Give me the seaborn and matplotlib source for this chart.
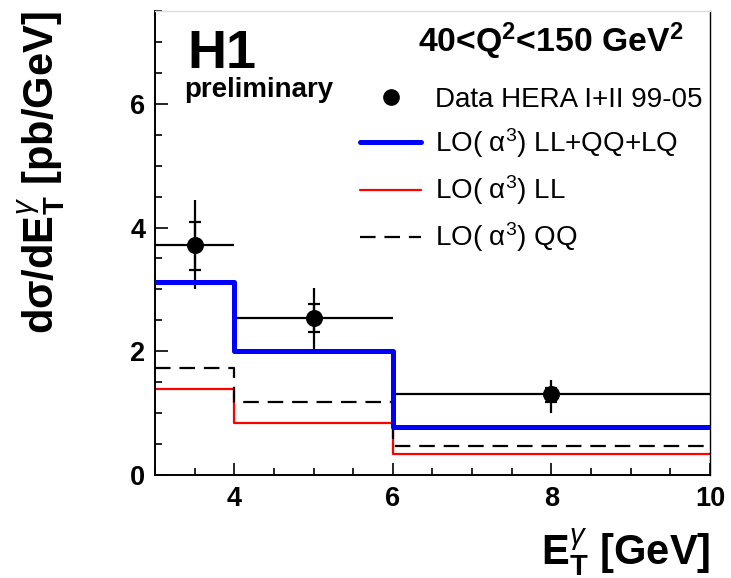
import numpy as np
import pandas as pd
import matplotlib
matplotlib.use("Agg")
import matplotlib.pyplot as plt
import seaborn as sns
from matplotlib.lines import Line2D
from matplotlib.ticker import MultipleLocator

# ---------------- data ----------------
bin_edges = [3, 4, 6, 10]
lo_all = [3.12, 2.01, 0.78]   # LO(a^3) LL+QQ+LQ
lo_ll = [1.39, 0.84, 0.34]    # LO(a^3) LL
lo_qq = [1.73, 1.18, 0.47]    # LO(a^3) QQ

data_x = [3.5, 5.0, 8.0]
data_xlo = [3, 4, 6]
data_xhi = [4, 6, 10]
data_y = [3.71, 2.54, 1.31]
tot_up = [4.45, 3.02, 1.54]
tot_dn = [3.01, 2.04, 1.01]
stat_up = [4.09, 2.76, 1.41]
stat_dn = [3.32, 2.31, 1.18]

title_text = "40<Q$^{\\mathbf{2}}$<150 GeV$^{\\mathbf{2}}$"
labels = ["Data HERA I+II 99-05", "LO( α$^{3}$) LL+QQ+LQ", "LO( α$^{3}$) LL", "LO( α$^{3}$) QQ"]

# ---------------- style ----------------
sns.set_style("ticks")
plt.rcParams["font.family"] = ["Liberation Sans", "DejaVu Sans"]
plt.rcParams["mathtext.fontset"] = "custom"
plt.rcParams["mathtext.rm"] = "Liberation Sans"
plt.rcParams["mathtext.it"] = "Liberation Sans:italic"
plt.rcParams["mathtext.bf"] = "Liberation Sans:bold"
for k in ["text.color", "axes.labelcolor", "xtick.color", "ytick.color", "axes.edgecolor"]:
    plt.rcParams[k] = "black"

W, H = 731, 578
fig = plt.figure(figsize=(W / 100, H / 100), dpi=100)
ax = fig.add_axes([155 / W, 1 - 475 / H, (710 - 155) / W, (475 - 11) / H])

def step_df(vals):
    return pd.DataFrame({"x": bin_edges, "y": list(vals) + [vals[-1]]})

sns.lineplot(data=step_df(lo_ll), x="x", y="y", ax=ax, drawstyle="steps-post",
             color="#ff0000", lw=1.6, zorder=2, estimator=None, sort=False)
sns.lineplot(data=step_df(lo_qq), x="x", y="y", ax=ax, drawstyle="steps-post",
             color="black", lw=1.6, dashes=False, zorder=3, estimator=None, sort=False)
ax.lines[-1].set_dashes((7, 4))

# data points with errors
dx = np.array(data_x)
dy = np.array(data_y)
xerr = [dx - np.array(data_xlo), np.array(data_xhi) - dx]
yerr_tot = [dy - np.array(tot_dn), np.array(tot_up) - dy]
yerr_stat = [dy - np.array(stat_dn), np.array(stat_up) - dy]
ax.errorbar(dx, dy, xerr=xerr, yerr=yerr_tot, fmt="none", ecolor="black",
            elinewidth=1.6, capsize=0, zorder=4)
eb = ax.errorbar(dx, dy, yerr=yerr_stat, fmt="none", ecolor="black",
                 elinewidth=1.6, capsize=4.3, capthick=1.6, zorder=4)
sns.scatterplot(x=data_x, y=data_y, ax=ax, color="black", s=150, marker="o",
                edgecolor="black", linewidth=0, zorder=5)

sns.lineplot(data=step_df(lo_all), x="x", y="y", ax=ax, drawstyle="steps-post",
             color="#0000ff", lw=3.6, zorder=6, estimator=None, sort=False)

# axes
ax.set_xlim(3, 10)
ax.set_ylim(0, 7.5)
ax.xaxis.set_major_locator(MultipleLocator(2))
ax.xaxis.set_minor_locator(MultipleLocator(0.5))
ax.yaxis.set_major_locator(MultipleLocator(2))
ax.yaxis.set_minor_locator(MultipleLocator(0.5))
ax.set_xticks([4, 6, 8, 10])
ax.tick_params(which="both", direction="in", top=False, right=False, width=1.2,
               colors="black")
ax.tick_params(which="major", length=9, labelsize=19.5)
ax.tick_params(axis="y", which="major", pad=7)
ax.tick_params(axis="x", which="major", pad=8)
ax.tick_params(which="minor", length=5)
for lab in ax.get_xticklabels() + ax.get_yticklabels():
    lab.set_fontweight("bold")
for s in ["left", "bottom", "right"]:
    ax.spines[s].set_color("black")
for s in ["left", "bottom"]:
    ax.spines[s].set_linewidth(1.4)
ax.spines["right"].set_linewidth(1.0)
ax.spines["top"].set_color("#dddddd")
ax.spines["top"].set_linewidth(1.0)

ax.set_xlabel("E$_{\\mathbf{T}}^{\\gamma}$ [GeV]", fontsize=30, fontweight="bold", loc="right")
ax.set_ylabel("dσ/dE$_{\\mathbf{T}}^{\\gamma}$ [pb/GeV]", fontsize=30, fontweight="bold", loc="top")
ax.xaxis.set_label_coords(1.0, -0.110)
ax.yaxis.set_label_coords(-0.158, 1.0)
ax.xaxis.label.set_va("top")

# annotations
fig.text(187 / W, 1 - 68 / H, "H1", fontsize=39, fontweight="bold", va="baseline")
fig.text(184 / W, 1 - 97 / H, "preliminary", fontsize=20, fontweight="bold", va="baseline")
fig.text(683 / W, 1 - 52 / H, title_text, fontsize=24.3, fontweight="bold",
         ha="right", va="baseline")

handles = [
    Line2D([], [], marker="o", color="black", ls="none", markersize=11),
    Line2D([], [], color="#0000ff", lw=3.6),
    Line2D([], [], color="#ff0000", lw=1.6),
    Line2D([], [], color="black", lw=1.6, dashes=(7, 4)),
]
leg = ax.legend(handles, labels, loc="upper left", bbox_to_anchor=(360 / W, 1 - 87 / H),
                bbox_transform=fig.transFigure, frameon=False, fontsize=20,
                handlelength=2.2, handletextpad=0.5, labelspacing=0.48, borderpad=0,
                borderaxespad=0, numpoints=1)
for t in leg.get_texts():
    t.set_color("black")

fig.savefig("out.png", dpi=100)
